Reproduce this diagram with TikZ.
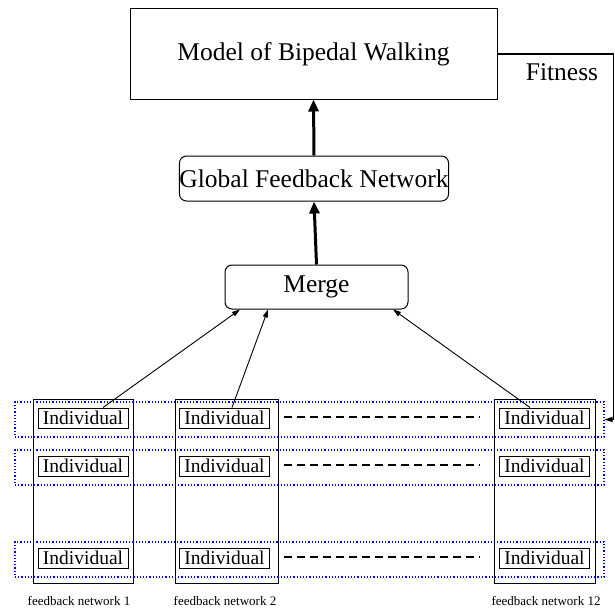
\documentclass[tikz,border=0pt]{standalone}
\usepackage{fontspec}
\setmainfont{Liberation Serif}
\usetikzlibrary{arrows.meta,calc}
\begin{document}
\begin{tikzpicture}[x=1pt,y=-1pt,
  bigbox/.style={draw,line width=1pt,inner sep=0pt,font=\fontsize{25.5}{29}\selectfont},
  roundbox/.style={bigbox,rounded corners=7pt},
  colbox/.style={draw,line width=0.8pt,inner sep=0pt,minimum height=184pt},
  rowbox/.style={draw=blue,dotted,line width=1.2pt,inner sep=0pt,minimum width=589pt,minimum height=35pt},
  indiv/.style={draw,line width=1pt,inner sep=0pt,minimum width=90pt,minimum height=20pt,font=\fontsize{19.5}{21}\selectfont},
  thick arrow/.style={line width=3pt,-{Triangle[width=10pt,length=12pt]}},
  thin arrow/.style={line width=0.9pt,-{Triangle[width=5pt,length=8pt]}},
  dots/.style={dashed,line width=1.6pt,dash pattern=on 8pt off 5pt},
  lbl/.style={font=\fontsize{13}{15}\selectfont}]
\useasboundingbox (0,0) rectangle (615,610);
% top part
\node[bigbox,minimum width=367pt,minimum height=90pt] (model) at (313.5,54) {Model of Bipedal Walking};
\node[roundbox,minimum width=266pt,minimum height=45pt] (gfn) at (314,178.5) {Global Feedback Network};
\node[roundbox,minimum width=183pt,minimum height=44pt] (merge) at (316.5,287) {Merge};
% columns
\node[colbox,minimum width=100pt] (c1) at (83,491) {};
\node[colbox,minimum width=103pt] (c2) at (226.5,491) {};
\node[colbox,minimum width=101pt] (c3) at (544.5,491) {};
% rows
\node[rowbox] (r1) at (309.5,419.5) {};
\node[rowbox] (r2) at (309.5,467.5) {};
\node[rowbox] (r3) at (309.5,559.5) {};
% individuals
\node[indiv] (i11) at (83,418) {Individual};
\node[indiv] (i12) at (224.5,418) {Individual};
\node[indiv] (i13) at (544.5,418) {Individual};
\node[indiv] (i21) at (83,466) {Individual};
\node[indiv] (i22) at (224.5,466) {Individual};
\node[indiv] (i23) at (544.5,466) {Individual};
\node[indiv] (i31) at (83,558) {Individual};
\node[indiv] (i32) at (224.5,558) {Individual};
\node[indiv] (i33) at (544.5,558) {Individual};
% dashed lines
\draw[dots] (i12.east |- 0,417) ++(14,0) -- (480,417);
\draw[dots] (i22.east |- 0,465) ++(14,0) -- (480,465);
\draw[dots] (i32.east |- 0,557) ++(14,0) -- (480,557);
% labels
\node[lbl] (l1) at (79,601) {feedback network 1};
\node[lbl] (l2) at (225,601) {feedback network 2};
\node[lbl] (l3) at (546,601) {feedback network 12};
% arrows
\draw[thick arrow] (gfn.north) -- (model.south);
\draw[thick arrow] (merge.north) -- (gfn.south);
\draw[thin arrow] ($(i11.north)+(20,0)$) -- ($(merge.south)+(-76.5,0)$);
\draw[thin arrow] ($(i12.north)+(7.5,0)$) -- ($(merge.south)+(-48.5,0)$);
\draw[thin arrow] ($(i13.north)+(-14.5,0)$) -- ($(merge.south)+(76.5,0)$);
% fitness
\coordinate (f1) at (613.5,54);
\coordinate (f2) at (613.5,419.5);
\draw[line width=1.2pt] (model.east |- f1) -- (f1) -- (f2);
\draw[thin arrow] (f2) -- (r1.east);
\node[font=\fontsize{25.5}{29}\selectfont] (fit) at (562,72) {Fitness};
\end{tikzpicture}
\end{document}
